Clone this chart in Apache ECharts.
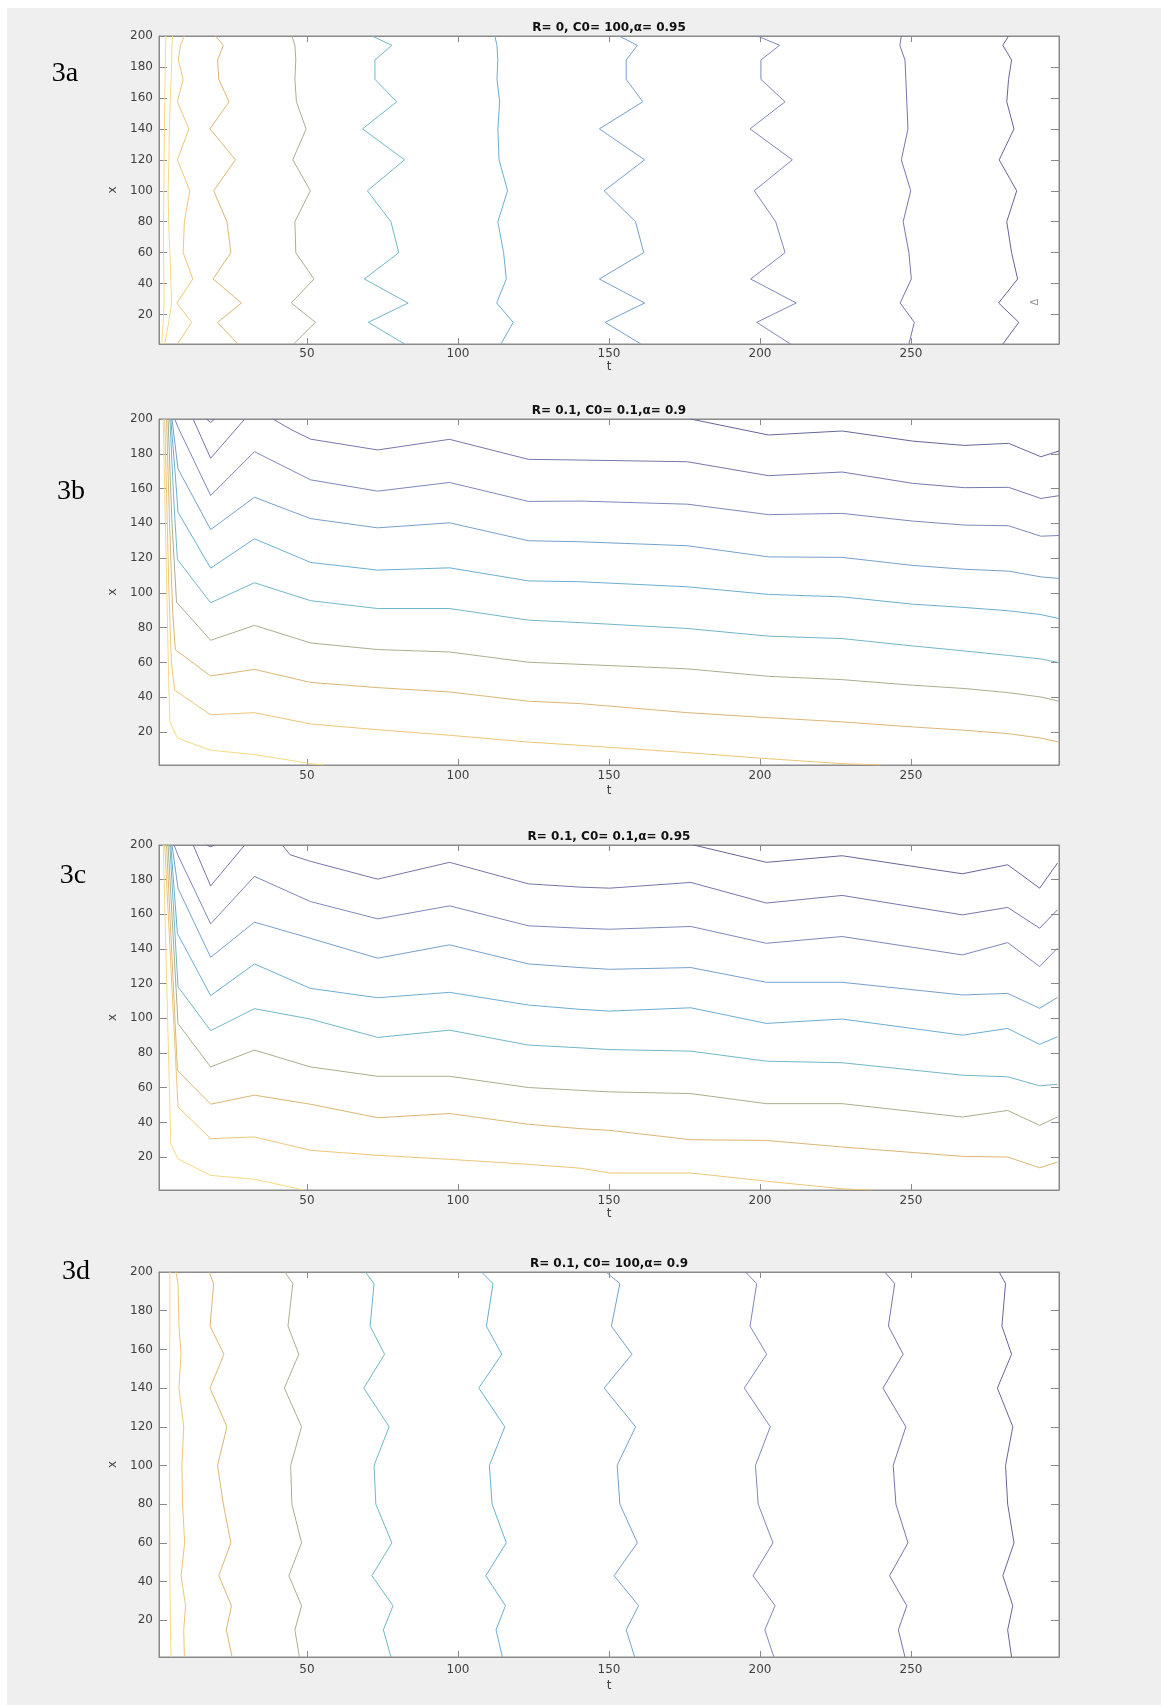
<!DOCTYPE html>
<html>
<head>
<meta charset="utf-8">
<script src="https://cdn.jsdelivr.net/npm/echarts@6/dist/echarts.min.js"></script>
<style>
html, body { margin: 0; padding: 0; background: #fff; }
#chart { width: 1161px; height: 1705px; background: #efefef; box-shadow: inset 7px 8px 0 #fff; }
</style>
</head>
<body>
<div id="chart"></div>
<script>
// axis ticks shared by the four panels
const tTicks = [50, 100, 150, 200, 250]
const xTicks = [20, 40, 60, 80, 100, 120, 140, 160, 180, 200]
const tRange = [1, 299]
const xRange = [1, 200]

const titles = ['R= 0, C0= 100,α= 0.95', 'R= 0.1, C0= 0.1,α= 0.9', 'R= 0.1, C0= 0.1,α= 0.95', 'R= 0.1, C0= 100,α= 0.9']
const panelNames = ['3a', '3b', '3c', '3d']

// contour colours, lowest level (dark) -> highest level (yellow)
const levelColors = ['#66669a', '#7676ac', '#7d88ba', '#76a0ca', '#6aaed1', '#70b7c6', '#a7b08e', '#dcb674', '#edc677', '#f5da84']

// 3a: x values where the contours bend, t of each contour there
const xGridA = [200, 194, 184.5, 172, 157.5, 140, 120, 100, 80, 60, 43, 27.5, 15, 1]
const a0 = [282.3, 280.4, 283.3, 282.3, 281.7, 284.1, 279.2, 285.0, 281.7, 283.3, 285.3, 279.0, 285.7, 280.4]
const a1 = [246.8, 246.3, 248.0, 248.3, 248.6, 249.0, 246.8, 249.9, 247.4, 249.3, 250.1, 246.4, 251.1, 249.3]
const a2 = [199.1, 206.5, 200.3, 200.3, 208.3, 196.7, 210.7, 198.1, 205.2, 208.3, 196.9, 212.0, 198.9, 210.1]
const a3 = [153.3, 159.4, 155.7, 155.7, 161.2, 146.8, 161.8, 148.4, 158.8, 161.5, 146.8, 161.8, 148.7, 160.6]
const a4 = [112.2, 112.9, 113.2, 112.9, 113.8, 113.2, 113.6, 116.4, 113.2, 115.1, 116.0, 112.8, 118.3, 114.2]
const a5 = [71.5, 78.1, 72.5, 72.5, 79.7, 68.4, 82.3, 70.0, 77.8, 80.4, 69.0, 83.5, 70.3, 82.3]
const a6 = [45.0, 46.0, 46.3, 46.0, 46.5, 49.7, 45.3, 51.1, 46.0, 46.3, 52.3, 44.8, 52.8, 45.6]
const a7 = [19.7, 22.3, 20.4, 20.8, 24.2, 17.9, 26.3, 19.1, 23.5, 24.8, 18.9, 28.3, 20.4, 27.1]
const a8 = [9.4, 8.1, 7.4, 9.0, 7.1, 10.9, 7.1, 11.2, 9.4, 9.0, 12.2, 6.9, 11.8, 7.1]
const a9 = [5.5, 5.3, 5.2, 5.0, 4.7, 4.4, 4.3, 4.0, 4.2, 4.6, 4.9, 5.2, 4.2, 2.9]
const a10 = [3.3, 3.2, 3.1, 3.0, 2.9, 2.8, 2.7, 2.6, 2.5, 2.5, 2.6, 2.7, 2.4, 1.9]
const deltaNote = [291, 28]

// 3b: contours as [t, x] points
const b1a = [[16.7, 200], [18.1, 198], [19.4, 200]]
const b1b = [[177, 200], [202.8, 190.8], [227.2, 193.1], [250.5, 187.3], [267.6, 184.8], [282.3, 186], [293, 178.3], [299, 181.6]]
const b2a = [[12.3, 200], [18.1, 177.4], [29.4, 200]]
const b2b = [[38.7, 200], [45, 193.7], [51.2, 188.4], [73.4, 182.2], [97.2, 188.3], [123.3, 176.8], [140.4, 176.4], [176, 175.4], [202.8, 167.4], [227.2, 169.5], [250.5, 163], [267.6, 160.5], [282.3, 160.7], [293, 154.3], [299, 155.9]]
const b3 = [[6.2, 200], [7.3, 195.2], [18.1, 156], [32.6, 181.2], [51.2, 165], [73.4, 158.5], [97.2, 163.5], [123.3, 152.6], [140.4, 152.8], [176, 151], [202.8, 145], [227.2, 145.7], [250.5, 141.3], [267.6, 139], [282.3, 138.6], [293, 132.6], [299, 133]]
const b4 = [[5.3, 200], [7.3, 171.3], [18.1, 136.4], [32.6, 155], [51.2, 142.7], [73.4, 137.4], [97.2, 140.3], [123.3, 130], [140.4, 129.4], [176, 127.1], [202.8, 120.7], [227.2, 120.4], [250.5, 115.8], [267.6, 113.6], [282.3, 112.5], [293, 109.2], [299, 108.3]]
const b5 = [[4.9, 200], [6.3, 170], [7.3, 146.4], [18.1, 114.2], [32.6, 131.1], [51.2, 117.5], [73.4, 113.1], [97.2, 114.4], [123.3, 106.9], [140.4, 106.4], [176, 103.5], [202.8, 99.1], [227.2, 97.7], [250.5, 93.5], [267.6, 91.6], [282.3, 89.7], [293, 87.5], [299, 85.2]]
const b6 = [[4.6, 200], [6, 150], [7.1, 119.2], [18.1, 94.3], [32.6, 105.8], [51.2, 95.5], [73.4, 91], [97.2, 91], [123.3, 84.3], [140.4, 82.9], [176, 79.5], [202.8, 75.1], [227.2, 73.7], [250.5, 69.5], [267.6, 66.6], [282.3, 64], [293, 62], [299, 59.9]]
const b7 = [[4, 200], [5.3, 140], [6.8, 94.7], [18.1, 72.7], [32.6, 81.3], [51.2, 71.2], [73.4, 67.4], [97.2, 66], [123.3, 60.1], [140.4, 58.9], [176, 56.3], [202.8, 52], [227.2, 50.1], [250.5, 46.9], [267.6, 45], [282.3, 42.6], [293, 40.1], [299, 37.7]]
const b8 = [[3.5, 200], [4.5, 140], [5.5, 90], [6.4, 67.3], [18.1, 52.2], [32.6, 56], [51.2, 48.5], [73.4, 45.5], [97.2, 43], [123.3, 37.7], [140.4, 36.3], [176, 31.1], [202.8, 28.2], [227.2, 25.8], [250.5, 22.9], [267.6, 21], [282.3, 19], [293, 16.5], [299, 14.2]]
const b9 = [[2.9, 200], [3.6, 150], [4.3, 100], [5.1, 60], [6.2, 44], [18.1, 29.9], [32.6, 31.1], [51.2, 24.6], [73.4, 21.3], [97.2, 18.1], [123.3, 14.2], [140.4, 12.3], [176, 8.1], [202.8, 4.6], [227.2, 1.8], [240, 1]]
const b10 = [[2.4, 200], [3, 150], [3.6, 100], [4.2, 50], [4.6, 26], [7.1, 16.5], [18.1, 9.5], [32.6, 7], [51.3, 1.8], [55.5, 1]]

// 3c: contours as [t, x] points
const c1a = [[16.7, 200], [18.1, 199], [19.4, 200]]
const c1b = [[178, 200], [202.1, 190], [227.2, 193.8], [267, 183.4], [282, 188.6], [292.6, 175.1], [298.5, 189.6]]
const c2a = [[12.3, 200], [18.1, 176.4], [29.4, 200]]
const c2b = [[41.8, 200], [44.4, 194.4], [51.1, 190.6], [73.4, 180.3], [97.2, 190], [123.3, 177.6], [140.4, 175.7], [150.2, 175.1], [177.1, 178.4], [202.1, 166.5], [227.2, 170.9], [267, 159.7], [282, 164], [292.6, 152], [298.5, 162.6]]
const c3 = [[6, 200], [7.3, 194], [18.1, 154.5], [32.6, 181.9], [51.1, 167.4], [73.4, 157.4], [97.2, 164.9], [123.3, 153.4], [140.4, 152], [150.2, 151.4], [177.1, 153], [202.1, 143.3], [227.2, 147.2], [267, 136.6], [282, 143.7], [292.6, 129.9], [298.5, 140.5]]
const c4 = [[5.3, 200], [7.3, 175], [18.1, 135.2], [32.6, 155.5], [51.1, 146.2], [73.4, 134.7], [97.2, 142.4], [123.3, 131.4], [140.4, 129.3], [150.2, 128.3], [177.1, 129.3], [202.1, 120.8], [227.2, 120.8], [267, 113.5], [282, 114.4], [292.6, 105.8], [298.5, 112.1]]
const c5 = [[4.9, 200], [7.1, 149], [18.1, 113.1], [32.6, 131.4], [51.1, 117.3], [73.4, 111.9], [97.2, 115], [123.3, 107.7], [140.4, 105.2], [150.2, 104.2], [177.1, 106.1], [202.1, 97.1], [227.2, 99.6], [267, 90.3], [282, 94.2], [292.6, 85], [298.5, 89.4]]
const c6 = [[4.6, 200], [7.3, 118.2], [18.1, 92.9], [32.6, 105.6], [51.1, 99.6], [73.4, 89], [97.2, 93.2], [123.3, 84.6], [140.4, 83], [150.2, 82], [177.1, 81.1], [202.1, 75.3], [227.2, 74.4], [267, 67.2], [282, 66.3], [292.6, 61.1], [298.5, 62]]
const c7 = [[4, 200], [7.3, 97], [18.1, 72], [32.6, 81.7], [51.1, 72], [73.4, 66.6], [97.2, 66.6], [123.3, 60.1], [140.4, 58.5], [150.2, 57.6], [177.1, 56.6], [202.1, 50.8], [227.2, 50.8], [267, 43.1], [282, 46.9], [292.6, 38.3], [298.5, 43.1]]
const c8 = [[3.5, 200], [7.1, 70], [18.1, 50.5], [32.6, 55.7], [51.1, 50.5], [73.4, 42.7], [97.2, 45.1], [123.3, 38.9], [140.4, 36.4], [150.2, 35.4], [177.1, 30], [202.1, 29.6], [227.2, 25.8], [267, 20.4], [282, 20], [292.6, 13.8], [298.5, 17.1]]
const c9 = [[2.9, 200], [7.3, 48.9], [18.1, 30.6], [32.6, 31.6], [51.1, 23.9], [73.4, 21], [97.2, 18.7], [123.3, 15.8], [140.4, 13.6], [150.2, 10.8], [177.1, 10.8], [202.1, 6.1], [227.2, 1.7], [237, 1]]
const c10 = [[2.4, 200], [4.9, 27.7], [7.3, 19], [18.1, 9.4], [32.6, 7.2], [49, 1]]

// 3d: x values where the contours bend, t of each contour there
const xGridD = [200, 194, 172, 157.5, 140, 120, 100, 80, 60, 43, 27.5, 15, 1]
const d1 = [279.2, 281.3, 280.1, 283.3, 278.6, 283.7, 281.3, 282, 284.1, 280.4, 283.7, 282, 283.3]
const d2 = [241.3, 244.6, 242.5, 247.4, 240.7, 248.3, 244.1, 245, 249, 242.9, 248.6, 245.8, 248]
const d3 = [195.2, 198.9, 196.7, 202.2, 194.8, 203.4, 198.5, 199.4, 204.3, 197.7, 205, 201.6, 204.6]
const d4 = [149, 153.6, 150.8, 157.6, 148.4, 158.8, 152.7, 153.6, 159.4, 151.7, 159.8, 155.7, 158.5]
const d5 = [107.8, 111.6, 109.4, 114.5, 106.9, 115.5, 110.4, 111.3, 116, 109.2, 115.7, 112.6, 114.7]
const d6 = [69.3, 72.2, 70.9, 75.7, 68.8, 77.2, 72.2, 72.8, 78.1, 71.5, 78.5, 75.3, 77.8]
const d7 = [42.7, 45.3, 43.7, 47.3, 42.5, 48.2, 44.6, 45, 48.2, 44, 48.2, 46, 47.5]
const d8 = [17.6, 19.1, 17.9, 22.5, 17.9, 23.5, 20.4, 22.3, 24.8, 20.8, 25, 23.3, 25.2]
const d9 = [6.6, 7.3, 7.6, 8.3, 7.6, 9.2, 8.6, 8.8, 9.5, 8.3, 9.8, 9.2, 9.4]
const d10 = [4.6, 4.6, 4.6, 4.5, 4.5, 4.5, 4.5, 4.5, 4.6, 4.6, 4.7, 4.8, 5.0]

function vertical (ts, grid) {
  return ts.map((t, i) => [t, grid[i]])
}

// each panel: grid box, label gaps, contours with their colour level
const panels = [
  {
    top: 36, height: 308, labelGap: 4, nameGap: 16, labelPos: [65, 74],
    lines: [[vertical(a0, xGridA), 0], [vertical(a1, xGridA), 1], [vertical(a2, xGridA), 2], [vertical(a3, xGridA), 3],
      [vertical(a4, xGridA), 4], [vertical(a5, xGridA), 5], [vertical(a6, xGridA), 6], [vertical(a7, xGridA), 7],
      [vertical(a8, xGridA), 8], [vertical(a9, xGridA), 9], [vertical(a10, xGridA), 9]]
  },
  {
    top: 419, height: 346, labelGap: 5, nameGap: 20, labelPos: [71, 492],
    lines: [[b1a, 0], [b1b, 0], [b2a, 1], [b2b, 1], [b3, 2], [b4, 3], [b5, 4], [b6, 5], [b7, 6], [b8, 7], [b9, 8], [b10, 9]]
  },
  {
    top: 845, height: 345, labelGap: 5, nameGap: 18, labelPos: [73, 876],
    lines: [[c1a, 0], [c1b, 0], [c2a, 1], [c2b, 1], [c3, 2], [c4, 3], [c5, 4], [c6, 5], [c7, 6], [c8, 7], [c9, 8], [c10, 9]]
  },
  {
    top: 1272, height: 385, labelGap: 7, nameGap: 23, labelPos: [76, 1272],
    lines: [[vertical(d1, xGridD), 0], [vertical(d2, xGridD), 1], [vertical(d3, xGridD), 2], [vertical(d4, xGridD), 3],
      [vertical(d5, xGridD), 4], [vertical(d6, xGridD), 5], [vertical(d7, xGridD), 6], [vertical(d8, xGridD), 7],
      [vertical(d9, xGridD), 8], [vertical(d10, xGridD), 9]]
  }
]

const axisColor = '#8a8a8a'
const textColor = '#404040'
const tickFont = { color: textColor, fontSize: 12, fontFamily: 'DejaVu Sans' }

const grids = []
const xAxes = []
const yAxes = []
const series = []
const graphics = []

panels.forEach((p, i) => {
  grids.push({
    left: 159, width: 900, top: p.top, height: p.height,
    show: true, backgroundColor: '#fff', borderColor: axisColor, borderWidth: 1
  })
  xAxes.push({
    type: 'value', gridIndex: i, min: tRange[0], max: tRange[1],
    name: 't', nameLocation: 'middle', nameGap: p.nameGap, nameTextStyle: tickFont,
    axisLine: { onZero: false, lineStyle: { color: axisColor } },
    axisTick: { inside: true, length: 6, customValues: tTicks, lineStyle: { color: axisColor } },
    axisLabel: { customValues: tTicks, margin: p.labelGap, ...tickFont },
    splitLine: { show: false }
  }, {
    type: 'value', gridIndex: i, position: 'top', min: tRange[0], max: tRange[1],
    axisLine: { onZero: false, lineStyle: { color: axisColor } },
    axisTick: { inside: true, length: 6, customValues: tTicks, lineStyle: { color: axisColor } },
    axisLabel: { show: false },
    splitLine: { show: false }
  })
  yAxes.push({
    type: 'value', gridIndex: i, min: xRange[0], max: xRange[1],
    name: 'x', nameLocation: 'middle', nameGap: 33, nameTextStyle: tickFont,
    axisLine: { onZero: false, lineStyle: { color: axisColor } },
    axisTick: { inside: true, length: 8, customValues: xTicks, lineStyle: { color: axisColor } },
    axisLabel: { customValues: xTicks, margin: 6, ...tickFont },
    splitLine: { show: false }
  }, {
    type: 'value', gridIndex: i, position: 'right', min: xRange[0], max: xRange[1],
    axisLine: { onZero: false, lineStyle: { color: axisColor } },
    axisTick: { inside: true, length: 8, customValues: xTicks, lineStyle: { color: axisColor } },
    axisLabel: { show: false },
    splitLine: { show: false }
  })
  p.lines.forEach(([data, level]) => {
    series.push({
      type: 'line', xAxisIndex: 2 * i, yAxisIndex: 2 * i, data,
      symbol: 'none', showSymbol: false, silent: true,
      lineStyle: { width: 1, color: levelColors[level] }
    })
  })
  graphics.push({
    type: 'text', x: 609, y: p.top - 8, silent: true,
    style: { text: titles[i], font: 'bold 12px "DejaVu Sans"', fill: '#111', textAlign: 'center', textVerticalAlign: 'middle' }
  }, {
    type: 'text', x: p.labelPos[0], y: p.labelPos[1], silent: true,
    style: { text: panelNames[i], font: '28px "Liberation Serif"', fill: '#000', textAlign: 'center', textVerticalAlign: 'middle' }
  })
})

// small mark drawn inside panel 3a
series.push({
  type: 'scatter', xAxisIndex: 0, yAxisIndex: 0, data: [deltaNote], symbolSize: 1, silent: true,
  itemStyle: { color: 'rgba(0,0,0,0)' },
  label: { show: true, position: 'inside', formatter: 'Δ', rotate: 90, color: '#777', fontSize: 10 }
})

const myChart = echarts.init(document.getElementById('chart'))
myChart.setOption({
  animation: false,
  backgroundColor: 'transparent',
  grid: grids,
  xAxis: xAxes,
  yAxis: yAxes,
  series,
  graphic: graphics
})
</script>
</body>
</html>
